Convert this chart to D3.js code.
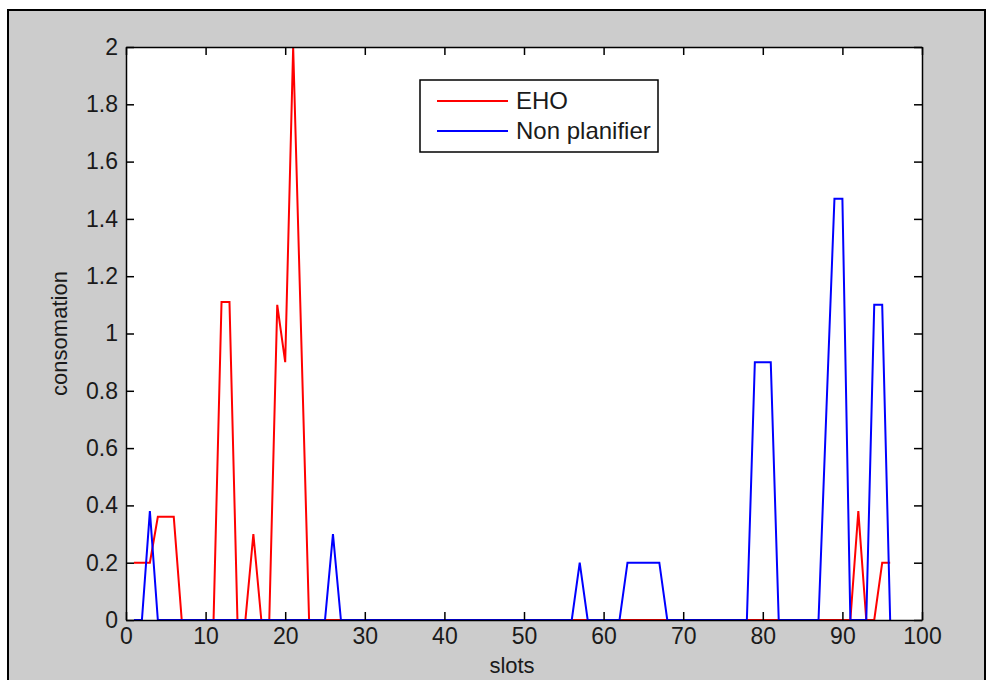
<!DOCTYPE html>
<html>
<head>
<meta charset="utf-8">
<script src="https://cdn.jsdelivr.net/npm/d3@7"></script>
<style>
  body { margin: 0; background: #fff; }
  svg { display: block; font-family: "Liberation Sans", Arial, sans-serif; }
</style>
</head>
<body>
<div id="chart"></div>
<script>
// slots 1..96
var slots = d3.range(1, 97)

var eho = [
    0.2, 0.2, 0.2, 0.36, 0.36, 0.36, 0, 0, 0, 0,
    0, 1.11, 1.11, 0, 0, 0.3, 0, 0, 1.1, 0.9,
    2.0, 1.0, 0, 0, 0, 0, 0, 0, 0, 0,
    0, 0, 0, 0, 0, 0, 0, 0, 0, 0,
    0, 0, 0, 0, 0, 0, 0, 0, 0, 0,
    0, 0, 0, 0, 0, 0, 0, 0, 0, 0,
    0, 0, 0, 0, 0, 0, 0, 0, 0, 0,
    0, 0, 0, 0, 0, 0, 0, 0, 0, 0,
    0, 0, 0, 0, 0, 0, 0, 0, 0, 0,
    0, 0.38, 0, 0, 0.2, 0.2
]

var nonPlanifier = [
    0, 0, 0.38, 0, 0, 0, 0, 0, 0, 0,
    0, 0, 0, 0, 0, 0, 0, 0, 0, 0,
    0, 0, 0, 0, 0, 0.3, 0, 0, 0, 0,
    0, 0, 0, 0, 0, 0, 0, 0, 0, 0,
    0, 0, 0, 0, 0, 0, 0, 0, 0, 0,
    0, 0, 0, 0, 0, 0, 0.2, 0, 0, 0,
    0, 0, 0.2, 0.2, 0.2, 0.2, 0.2, 0, 0, 0,
    0, 0, 0, 0, 0, 0, 0, 0, 0.9, 0.9,
    0.9, 0, 0, 0, 0, 0, 0, 0.74, 1.47, 1.47,
    0, 0, 0, 1.1, 1.1, 0
]

var xTicks = [0, 10, 20, 30, 40, 50, 60, 70, 80, 90, 100]
var yTicks = [0, 0.2, 0.4, 0.6, 0.8, 1, 1.2, 1.4, 1.6, 1.8, 2]

var series = [
    { name: "EHO", color: "#ff0000", values: eho },
    { name: "Non planifier", color: "#0000ff", values: nonPlanifier }
]

var width = 990, height = 680
var plotL = 126, plotR = 922, plotT = 47, plotB = 620

var svg = d3.select("#chart")
    .append("svg")
    .attr("width", width)
    .attr("height", height)

// figure frame
svg.append("rect")
    .attr("x", 8).attr("y", 10)
    .attr("width", 977).attr("height", 690)
    .style("fill", "#cccccc")
    .style("stroke", "#000")
    .style("stroke-width", 2)

svg.append("rect")
    .attr("x", plotL).attr("y", plotT)
    .attr("width", plotR - plotL).attr("height", plotB - plotT)
    .style("fill", "#fff")

var x = d3.scaleLinear().domain([0, 100]).range([plotL, plotR])
var y = d3.scaleLinear().domain([0, 2]).range([plotB, plotT])

var line = d3.line()
    .x((d, i) => x(slots[i]))
    .y(d => y(d))

svg.append("g")
    .selectAll("path")
    .data(series)
    .enter()
    .append("path")
        .attr("d", d => line(d.values))
        .style("fill", "none")
        .style("stroke", d => d.color)
        .style("stroke-width", 2)

// axes on all four sides, ticks pointing inwards
var fmt = d => String(+d.toFixed(1))
var ax = [
    { a: d3.axisBottom(x).tickValues(xTicks).tickFormat(fmt), t: "translate(0," + plotB + ")" },
    { a: d3.axisTop(x).tickValues(xTicks).tickFormat(""), t: "translate(0," + plotT + ")" },
    { a: d3.axisLeft(y).tickValues(yTicks).tickFormat(fmt), t: "translate(" + plotL + ",0)" },
    { a: d3.axisRight(y).tickValues(yTicks).tickFormat(""), t: "translate(" + plotR + ",0)" }
]
ax.forEach(function(o) {
    var g = svg.append("g")
        .attr("transform", o.t)
        .call(o.a.tickSizeInner(-8).tickSizeOuter(0).tickPadding(8))
    g.select(".domain").style("stroke", "#000").style("stroke-width", 1.5)
    g.selectAll(".tick line").style("stroke", "#000").style("stroke-width", 1.5)
    g.selectAll("text").style("font-size", "23px").style("fill", "#1a1a1a").style("font-family", null)
})

svg.append("text")
    .attr("x", 512)
    .attr("y", 673)
    .style("text-anchor", "middle")
    .style("font-size", "22px")
    .style("fill", "#1a1a1a")
    .text("slots")

svg.append("text")
    .attr("transform", "translate(67," + ((plotT + plotB) / 2) + ") rotate(-90)")
    .style("text-anchor", "middle")
    .style("font-size", "22px")
    .style("fill", "#1a1a1a")
    .text("consomation")

// legend
var legend = svg.append("g").attr("transform", "translate(420,80)")
legend.append("rect")
    .attr("width", 238).attr("height", 72)
    .style("fill", "#fff")
    .style("stroke", "#000")
    .style("stroke-width", 1.5)

var item = legend.selectAll(".item")
    .data(series)
    .enter()
    .append("g")
    .attr("transform", (d, i) => "translate(0," + (21 + i * 30) + ")")

item.append("line")
    .attr("x1", 17).attr("x2", 88)
    .style("stroke", d => d.color)
    .style("stroke-width", 2)

item.append("text")
    .attr("x", 96)
    .attr("dy", "0.35em")
    .style("font-size", "24px")
    .style("fill", "#1a1a1a")
    .text(d => d.name)
</script>
</body>
</html>
